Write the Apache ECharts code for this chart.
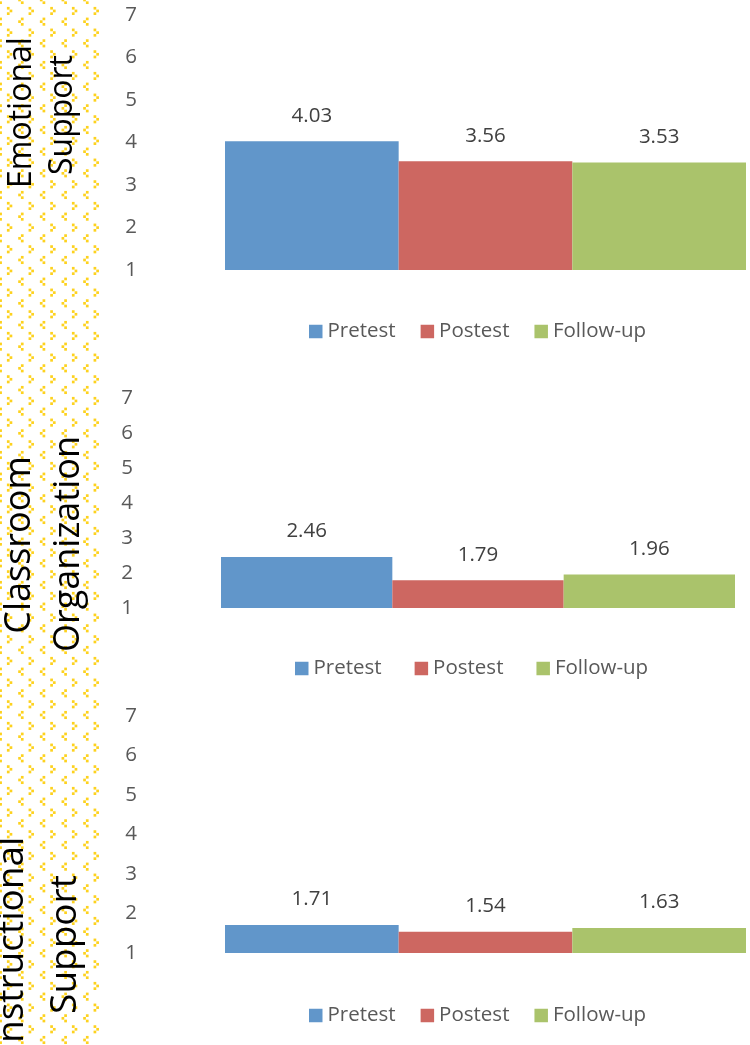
<!DOCTYPE html>
<html>
<head>
<meta charset="utf-8">
<title>Emotional Support, Classroom Organization, Instructional Support</title>
<script src="https://cdn.jsdelivr.net/npm/echarts@6/dist/echarts.min.js"></script>
<style>
  html, body { margin: 0; padding: 0; background: #ffffff; }
  #chart { width: 750px; height: 1045px; }
</style>
</head>
<body>
<div id="chart"></div>
<script>
// Domains (one panel each) and their two-line titles
const domains = ['Emotional Support', 'Classroom Organization', 'Instructional Support'];
const titleLines = [['Emotional', 'Support'], ['Classroom', 'Organization'], ['Instructional', 'Support']];

// Measurement occasions
const seriesNames = ['Pretest', 'Postest', 'Follow-up'];

// Mean scores per domain
const pretest = [4.03, 2.46, 1.71];
const postest = [3.56, 1.79, 1.54];
const followUp = [3.53, 1.96, 1.63];

// Rating scale shown on the value axes
const scaleMin = 1;
const scaleMax = 7;
const scaleStep = 1;

const seriesValues = [pretest, postest, followUp];
const colors = ['#6196CA', '#CD6761', '#AAC36B'];
const FONT = '"Open Sans", "Noto Sans", sans-serif';

// Panel layout: grid box, legend placement, title placement
const panels = [
  { grid: { left: 225, top: 15, width: 521, height: 255 },
    legend: { left: 309, top: 321, itemGap: 25 },
    titleSize: 32, titles: [{ x: 21.5, y: 112.5 }, { x: 62.5, y: 115 }] },
  { grid: { left: 221, top: 398, width: 514, height: 210 },
    legend: { left: 295, top: 658, itemGap: 33 },
    titleSize: 36, titles: [{ x: 20, y: 545 }, { x: 69, y: 544 }] },
  { grid: { left: 225, top: 716, width: 521, height: 237 },
    legend: { left: 309, top: 1005, itemGap: 25 },
    titleSize: 37, titles: [{ x: 12.5, y: 945 }, { x: 65, y: 944.5 }] }
];

// Decorative dotted strip on the left: small yellow chevrons on a repeating tile
function makeChevronTile() {
  const size = 65;
  const p = size / 3;
  const c = document.createElement('canvas');
  c.width = size;
  c.height = size;
  const ctx = c.getContext('2d');
  ctx.fillStyle = '#FDD21E';
  const s = 2.7;
  for (let i = -1; i <= 3; i++) {
    for (let j = -1; j <= 3; j++) {
      // ">" chevron
      let gx = 6.9 + i * p, gy = 6.9 + j * p;
      ctx.fillRect(gx, gy, s, s);
      ctx.fillRect(gx + s, gy + s, s, s);
      ctx.fillRect(gx, gy + 2 * s, s, s);
      // "<" chevron
      gx = 18.2 + i * p; gy = 17.6 + j * p;
      ctx.fillRect(gx + s, gy, s, s);
      ctx.fillRect(gx, gy + s, s, s);
      ctx.fillRect(gx + s, gy + 2 * s, s, s);
    }
  }
  return c;
}

const grids = [], xAxes = [], yAxes = [], legends = [], series = [];
const graphics = [{
  type: 'rect',
  z: -10,
  silent: true,
  shape: { x: 0, y: 0, width: 102, height: 1045 },
  style: { fill: { image: makeChevronTile(), repeat: 'repeat' } }
}];

panels.forEach((panel, g) => {
  grids.push(Object.assign({ containLabel: false }, panel.grid));
  xAxes.push({
    type: 'category',
    gridIndex: g,
    data: [domains[g]],
    show: false
  });
  yAxes.push({
    type: 'value',
    gridIndex: g,
    min: scaleMin,
    max: scaleMax,
    interval: scaleStep,
    startValue: scaleMin,
    axisLine: { show: false },
    axisTick: { show: false },
    splitLine: { show: false },
    axisLabel: {
      margin: 88,
      padding: [4, 0, 0, 0],
      color: '#595959',
      fontSize: 20.5,
      fontFamily: FONT
    }
  });
  legends.push({
    data: seriesNames.slice(),
    left: panel.legend.left,
    top: panel.legend.top,
    itemGap: panel.legend.itemGap,
    itemWidth: 13.5,
    itemHeight: 13.5,
    padding: 0,
    icon: 'rect',
    textStyle: { color: '#595959', fontSize: 20.5, fontFamily: FONT }
  });
  seriesNames.forEach((name, k) => {
    series.push({
      name: name,
      type: 'bar',
      xAxisIndex: g,
      yAxisIndex: g,
      data: [seriesValues[k][g]],
      barGap: '0%',
      barCategoryGap: '0%',
      itemStyle: { color: colors[k] },
      label: {
        show: true,
        position: 'top',
        distance: 15,
        color: '#404040',
        fontSize: 20.5,
        fontFamily: FONT,
        formatter: (p) => Number(p.value).toFixed(2)
      }
    });
  });
  titleLines[g].forEach((line, n) => {
    graphics.push({
      type: 'text',
      x: panel.titles[n].x,
      y: panel.titles[n].y,
      rotation: Math.PI / 2,
      silent: true,
      style: {
        text: line,
        fill: '#000000',
        fontSize: panel.titleSize,
        fontFamily: FONT,
        align: 'center',
        verticalAlign: 'middle',
        textAlign: 'center',
        textVerticalAlign: 'middle'
      }
    });
  });
});

const chart = echarts.init(document.getElementById('chart'), null, { renderer: 'canvas' });
chart.setOption({
  backgroundColor: '#ffffff',
  animation: false,
  grid: grids,
  xAxis: xAxes,
  yAxis: yAxes,
  legend: legends,
  series: series,
  graphic: graphics
});
</script>
</body>
</html>
